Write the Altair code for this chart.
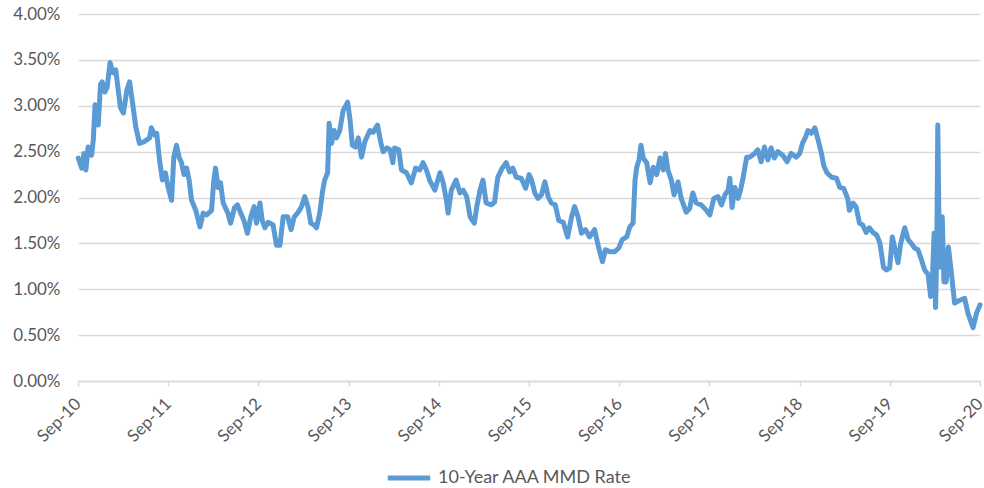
import altair as alt
import pandas as pd

dates = [
    "2010-09-02","2010-09-16","2010-09-25","2010-10-03","2010-10-12","2010-10-26","2010-11-02","2010-11-09","2010-11-22","2010-12-01",
    "2010-12-08","2010-12-19","2010-12-28","2011-01-09","2011-01-20","2011-02-01","2011-02-11","2011-02-20","2011-03-04","2011-03-18",
    "2011-03-29","2011-04-12","2011-04-23","2011-05-08","2011-05-28","2011-06-18","2011-06-25","2011-07-08","2011-07-17","2011-07-28",
    "2011-08-09","2011-08-21","2011-09-01","2011-09-15","2011-09-24","2011-10-05","2011-10-15","2011-10-25","2011-11-04","2011-11-15",
    "2011-11-25","2011-12-05","2011-12-22","2012-01-08","2012-01-21","2012-02-04","2012-02-24","2012-03-04","2012-03-11","2012-03-21",
    "2012-03-31","2012-04-11","2012-04-30","2012-05-11","2012-05-27","2012-06-08","2012-06-21","2012-07-04","2012-07-18","2012-08-01",
    "2012-08-14","2012-08-24","2012-09-07","2012-09-16","2012-09-27","2012-10-10","2012-10-30","2012-11-13","2012-11-27","2012-12-10",
    "2012-12-28","2013-01-11","2013-01-24","2013-02-09","2013-02-22","2013-03-07","2013-03-20","2013-04-01","2013-04-14","2013-04-24",
    "2013-05-07","2013-05-18","2013-05-27","2013-06-08","2013-06-14","2013-06-24","2013-07-04","2013-07-14","2013-07-27","2013-08-10",
    "2013-08-28","2013-09-07","2013-09-16","2013-09-29","2013-10-10","2013-10-23","2013-11-06","2013-11-26","2013-12-09","2013-12-27",
    "2014-01-10","2014-01-19","2014-02-03","2014-02-16","2014-02-27","2014-03-06","2014-03-23","2014-04-03","2014-04-23","2014-05-13",
    "2014-05-30","2014-06-16","2014-06-29","2014-07-13","2014-07-26","2014-08-16","2014-09-06","2014-09-19","2014-10-02","2014-10-09",
    "2014-10-22","2014-11-10","2014-11-26","2014-12-09","2014-12-23","2015-01-06","2015-01-23","2015-02-02","2015-02-15","2015-02-27",
    "2015-03-12","2015-04-02","2015-04-15","2015-04-28","2015-05-16","2015-06-01","2015-06-15","2015-06-28","2015-07-12","2015-08-01",
    "2015-08-19","2015-09-02","2015-09-12","2015-09-25","2015-10-08","2015-10-22","2015-11-05","2015-11-18","2015-12-01","2015-12-17",
    "2015-12-31","2016-01-18","2016-02-05","2016-02-21","2016-03-04","2016-03-18","2016-04-01","2016-04-17","2016-05-04","2016-05-24",
    "2016-06-10","2016-06-25","2016-07-07","2016-07-24","2016-08-14","2016-08-30","2016-09-13","2016-10-01","2016-10-14","2016-10-27",
    "2016-11-04","2016-11-11","2016-11-20","2016-11-28","2016-12-07","2016-12-21","2017-01-04","2017-01-17","2017-01-31","2017-02-13",
    "2017-02-26","2017-03-07","2017-03-17","2017-03-31","2017-04-11","2017-04-27","2017-05-10","2017-05-30","2017-06-13","2017-06-26",
    "2017-07-10","2017-07-30","2017-08-20","2017-09-03","2017-09-19","2017-10-06","2017-10-20","2017-11-03","2017-11-16","2017-11-23",
    "2017-12-02","2017-12-13","2017-12-26","2018-01-05","2018-01-16","2018-01-30","2018-02-12","2018-03-03","2018-03-16","2018-03-30",
    "2018-04-12","2018-04-26","2018-05-09","2018-05-22","2018-06-05","2018-06-25","2018-07-13","2018-07-29","2018-08-19","2018-09-02",
    "2018-09-13","2018-09-26","2018-10-05","2018-10-19","2018-11-02","2018-11-15","2018-11-29","2018-12-08","2018-12-21","2019-01-09",
    "2019-01-29","2019-02-11","2019-02-27","2019-03-15","2019-03-22","2019-04-05","2019-04-18","2019-05-02","2019-05-15","2019-05-29",
    "2019-06-11","2019-06-25","2019-07-11","2019-07-24","2019-08-07","2019-08-20","2019-09-01","2019-09-12","2019-09-21","2019-10-05",
    "2019-10-16","2019-11-01","2019-11-15","2019-11-28","2019-12-11","2019-12-25","2020-01-08","2020-01-21","2020-02-04","2020-02-14",
    "2020-02-22","2020-02-28","2020-03-05","2020-03-10","2020-03-14","2020-03-21","2020-03-25","2020-04-01","2020-04-08","2020-04-17",
    "2020-04-26","2020-05-08","2020-05-21","2020-06-11","2020-07-01","2020-07-14","2020-08-04","2020-08-18","2020-09-01",
]

rates = [
    2.43,2.32,2.48,2.30,2.55,2.46,2.63,3.01,2.79,3.23,
    3.26,3.15,3.20,3.47,3.36,3.39,3.17,2.98,2.92,3.17,
    3.26,2.99,2.77,2.59,2.61,2.65,2.76,2.68,2.70,2.41,
    2.19,2.27,2.11,1.97,2.44,2.57,2.44,2.38,2.25,2.32,
    2.19,1.97,1.86,1.68,1.83,1.81,1.86,2.19,2.32,2.11,
    2.16,1.94,1.83,1.72,1.89,1.92,1.83,1.75,1.61,1.79,
    1.90,1.72,1.94,1.75,1.67,1.73,1.70,1.48,1.48,1.79,
    1.79,1.65,1.79,1.84,1.90,2.01,1.90,1.72,1.70,1.67,
    1.83,2.06,2.19,2.27,2.81,2.59,2.73,2.65,2.73,2.95,
    3.04,2.84,2.57,2.55,2.65,2.44,2.61,2.73,2.71,2.79,
    2.59,2.50,2.54,2.52,2.38,2.54,2.52,2.30,2.27,2.16,
    2.32,2.30,2.38,2.30,2.19,2.08,2.27,2.16,1.97,1.83,
    2.08,2.19,2.05,2.08,2.01,1.79,1.72,1.90,2.08,2.19,
    1.94,1.92,1.95,2.22,2.32,2.38,2.28,2.32,2.22,2.21,
    2.10,2.25,2.19,2.05,1.99,2.03,2.17,2.01,1.94,1.92,
    1.75,1.73,1.57,1.79,1.90,1.79,1.61,1.65,1.57,1.65,
    1.45,1.30,1.43,1.41,1.41,1.45,1.54,1.57,1.68,1.72,
    2.19,2.33,2.41,2.57,2.43,2.38,2.16,2.33,2.25,2.43,
    2.30,2.48,2.30,2.19,2.03,2.17,1.99,1.84,1.88,2.05,
    1.94,1.92,1.86,1.81,1.99,2.01,1.92,2.03,2.08,2.21,
    1.89,2.11,1.99,2.08,2.22,2.44,2.44,2.48,2.52,2.39,
    2.55,2.41,2.54,2.43,2.50,2.46,2.39,2.48,2.44,2.48,
    2.59,2.66,2.73,2.70,2.76,2.63,2.48,2.35,2.27,2.22,
    2.21,2.11,2.10,1.99,1.86,1.94,1.90,1.72,1.70,1.62,
    1.67,1.62,1.59,1.50,1.24,1.21,1.23,1.57,1.46,1.29,
    1.50,1.67,1.54,1.50,1.45,1.43,1.32,1.21,1.16,0.92,
    1.16,1.61,0.80,1.43,2.79,1.24,1.61,1.79,1.08,1.08,
    1.46,1.18,0.85,0.88,0.90,0.74,0.58,0.74,0.83,
]

series_name = "10-Year AAA MMD Rate"
tick_dates = ["2010-09-01","2011-09-01","2012-09-01","2013-09-01","2014-09-01","2015-09-01",
              "2016-09-01","2017-09-01","2018-09-01","2019-09-01","2020-09-01"]
y_ticks = [0, 0.005, 0.01, 0.015, 0.02, 0.025, 0.03, 0.035, 0.04]

df = pd.DataFrame({"date": dates, "rate": [r / 100 for r in rates], "series": series_name})

TXT = "#595959"
FONT = "Lato"

chart = alt.Chart(df).mark_line(strokeWidth=5, strokeJoin="round", strokeCap="round").encode(
    x=alt.X("date:T",
            scale=alt.Scale(domain=["2010-09-01", "2020-09-01"]),
            axis=alt.Axis(values=tick_dates, format="%b-%y", title=None, grid=False,
                          labelAngle=315, labelAlign="right", labelBaseline="middle",
                          labelPadding=15, labelFontSize=17, labelColor=TXT, labelFont=FONT,
                          domainColor="#d9d9d9", domainWidth=1.5, tickColor="#d9d9d9",
                          tickSize=5, tickWidth=1.5, labelOverlap=False, labelFlush=False)),
    y=alt.Y("rate:Q",
            scale=alt.Scale(domain=[0, 0.04], nice=False),
            axis=alt.Axis(values=y_ticks, format=".2%", title=None, domain=False, ticks=False,
                          gridColor="#d9d9d9", gridWidth=1.5, labelPadding=18,
                          labelFontSize=17, labelColor=TXT, labelFont=FONT)),
    color=alt.Color("series:N", scale=alt.Scale(range=["#5b9bd5"]),
                    legend=alt.Legend(title=None, orient="none", legendX=307, legendY=440,
                                      padding=0, labelLimit=400,
                                      symbolType="stroke", symbolStrokeWidth=5, symbolSize=1800,
                                      labelFontSize=18, labelColor=TXT, labelFont=FONT,
                                      labelOffset=5)),
).properties(
    width=902, height=367,
    autosize=alt.AutoSizeParams(type="none"),
    padding={"left": 78, "top": 14, "right": 4, "bottom": 107},
).configure_view(stroke=None)

chart.save("out.html", embed_options={"renderer": "svg", "actions": False})
